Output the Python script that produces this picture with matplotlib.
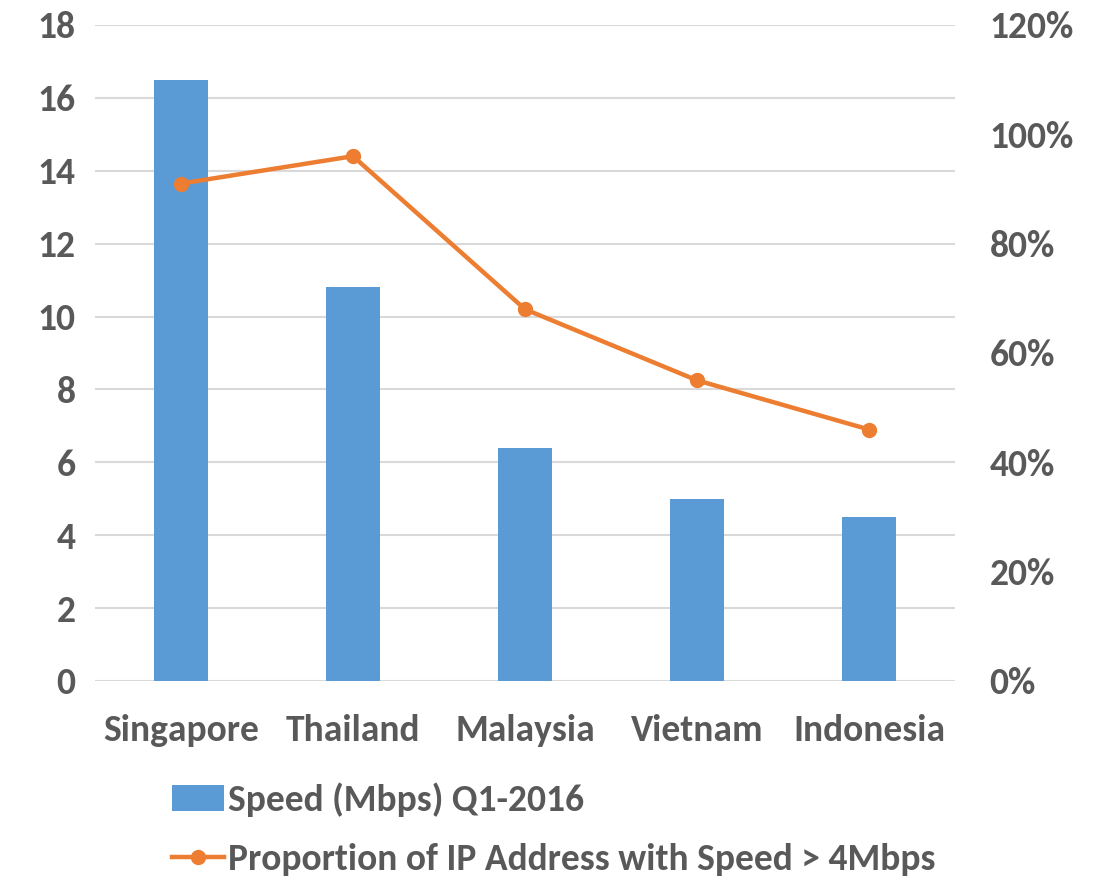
import matplotlib
matplotlib.use("Agg")
import matplotlib.pyplot as plt
from matplotlib import font_manager as fm
from matplotlib.ticker import FuncFormatter, MultipleLocator

countries = ["Singapore", "Thailand", "Malaysia", "Vietnam", "Indonesia"]
speed_mbps = [16.5, 10.8, 6.4, 5.0, 4.5]
proportion_pct = [91, 96, 68, 55, 46]
bar_label = "Speed (Mbps) Q1-2016"
line_label = "Proportion of IP Address with Speed > 4Mbps"

# pick a bold, Calibri-like family that is really installed in bold
chosen = 'DejaVu Sans'
for fam in ['Carlito', 'Lato', 'Open Sans', 'Noto Sans', 'Roboto', 'Liberation Sans']:
    if any(f.name == fam and (f.weight in ('bold', 700, 'heavy', 800, 'black', 900)
                              or (isinstance(f.weight, int) and f.weight >= 700))
           for f in fm.fontManager.ttflist):
        chosen = fam
        break
plt.rcParams['font.family'] = [chosen, 'DejaVu Sans']
plt.rcParams['font.weight'] = 'bold'
txt = "#595959"
fs = 27

fig = plt.figure(figsize=(11.07, 8.77), dpi=100)
ax = fig.add_axes([0.0858, 0.2235, 0.7769, 0.748])
x = list(range(len(countries)))
bars = ax.bar(x, speed_mbps, width=0.31, color="#5B9BD5", zorder=2, label=bar_label)
ax.set_ylim(0, 18)
ax.set_xlim(-0.5, len(countries) - 0.5)
ax.yaxis.set_major_locator(MultipleLocator(2))
ax.grid(axis='y', color="#D9D9D9", linewidth=1.5, zorder=0)
ax.set_axisbelow(True)
for s in ax.spines.values():
    s.set_visible(False)
ax.tick_params(axis='both', length=0, labelsize=fs, labelcolor=txt)
ax.tick_params(axis='y', pad=14)
ax.tick_params(axis='x', pad=24)
ax.set_xticks(x)
ax.set_xticklabels(countries, fontweight='bold')
for lab in ax.get_yticklabels():
    lab.set_fontweight('bold')

ax2 = ax.twinx()
line, = ax2.plot(x, proportion_pct, color="#ED7D31", linewidth=3.2, marker='o',
                 markersize=10, zorder=3, label=line_label)
ax2.set_ylim(0, 120)
ax2.yaxis.set_major_locator(MultipleLocator(20))
ax2.yaxis.set_major_formatter(FuncFormatter(lambda v, p: f"{int(v)}%"))
for s in ax2.spines.values():
    s.set_visible(False)
ax2.tick_params(axis='y', length=0, labelsize=fs, labelcolor=txt, pad=25)
for lab in ax2.get_yticklabels():
    lab.set_fontweight('bold')

leg = fig.legend([bars, line], [bar_label, line_label], loc='upper left',
                 bbox_to_anchor=(0.155, 0.108), frameon=False, borderpad=0,
                 borderaxespad=0, handlelength=1.4, handletextpad=0.1,
                 labelspacing=0.7, prop={'weight': 'bold', 'size': fs})
for t in leg.get_texts():
    t.set_color(txt)

fig.savefig("out.png", dpi=100)
